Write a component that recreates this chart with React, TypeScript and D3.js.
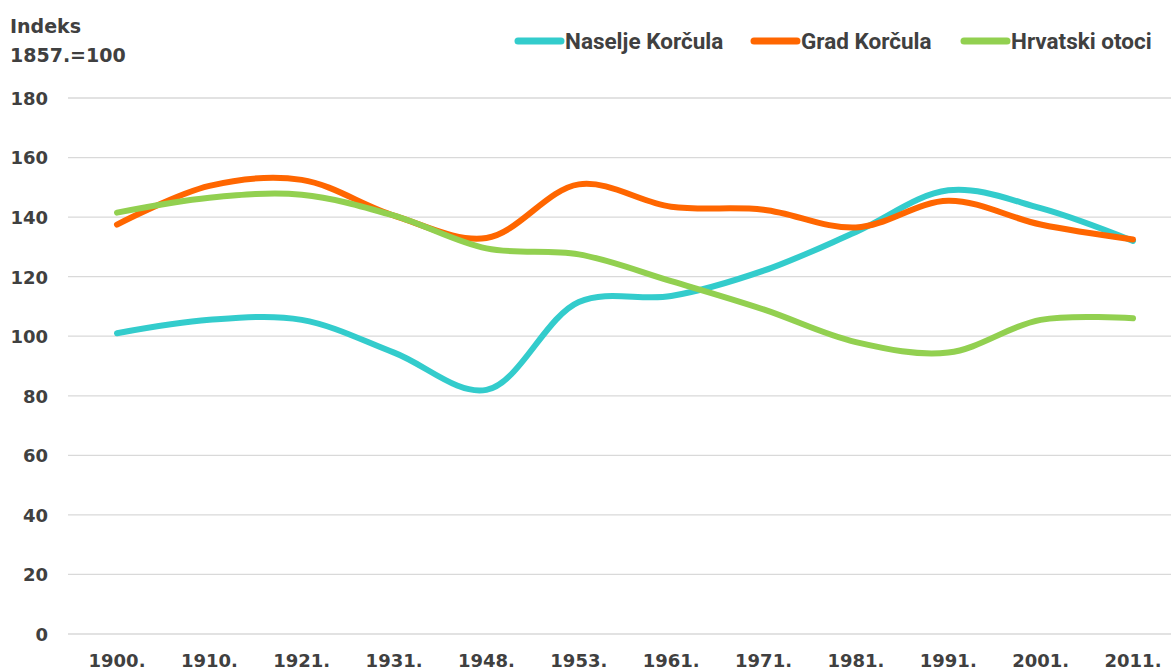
import React from "react";
import * as d3 from "d3";

// Census years on the x axis
const years = ["1900.", "1910.", "1921.", "1931.", "1948.", "1953.", "1961.", "1971.", "1981.", "1991.", "2001.", "2011."];

// Index values (1857 = 100)
const naseljeKorcula = [101, 105.5, 105.5, 94.5, 82, 111.5, 113.5, 122, 135, 149, 143, 132];
const gradKorcula = [137.5, 150.5, 152.5, 140.5, 133, 151, 143.5, 142.5, 136.5, 145.5, 137.5, 132.5];
const hrvatskiOtoci = [141.5, 146.5, 147.5, 140.5, 129.5, 127.5, 118.5, 109, 98, 94.5, 105.5, 106];

const yTicks = [0, 20, 40, 60, 80, 100, 120, 140, 160, 180];

const seriesNames = ["Naselje Korčula", "Grad Korčula", "Hrvatski otoci"];
const seriesColors = ["#33CCCC", "#FF6600", "#92D050"];

const W = 1171;
const H = 672;
const textColor = "#404040";
const tickFont = "'DejaVu Sans', sans-serif";
const legendFont = "'Liberation Sans Narrow', 'Roboto', sans-serif";

const App: React.FC = () => {
  const x = d3.scalePoint<string>().domain(years).range([117, 1133]);
  const y = d3.scaleLinear().domain([0, 180]).range([634, 98]);

  const line = d3
    .line<number>()
    .x((_, i) => x(years[i]) as number)
    .y((d) => y(d))
    .curve(d3.curveCatmullRom.alpha(0.5));

  const series = [naseljeKorcula, gradKorcula, hrvatskiOtoci];

  // legend entry start positions
  const legendX = [518, 754, 964];

  return (
    <svg width={W} height={H} style={{ position: "absolute", left: 0, top: 0, background: "#fff" }}>
      {/* axis title */}
      <text x={10} y={33} fontFamily={tickFont} fontWeight={700} fontSize={19} fill={textColor}>
        Indeks
      </text>
      <text x={10} y={62} fontFamily={tickFont} fontWeight={700} fontSize={19} fill={textColor}>
        1857.=100
      </text>

      {/* grid + y ticks */}
      {yTicks.map((t) => (
        <g key={t}>
          <line x1={68} x2={W} y1={y(t)} y2={y(t)} stroke="#d9d9d9" strokeWidth={1.3} />
          <text
            x={48}
            y={y(t)}
            dy="0.38em"
            textAnchor="end"
            fontFamily={tickFont}
            fontWeight={700}
            fontSize={18}
            fill={textColor}
          >
            {t}
          </text>
        </g>
      ))}

      {/* x labels */}
      {years.map((yr) => (
        <text
          key={yr}
          x={x(yr)}
          y={667}
          textAnchor="middle"
          fontFamily={tickFont}
          fontWeight={700}
          fontSize={18}
          fill={textColor}
        >
          {yr}
        </text>
      ))}

      {/* series lines */}
      {series.map((s, i) => (
        <path
          key={seriesNames[i]}
          d={line(s) || ""}
          fill="none"
          stroke={seriesColors[i]}
          strokeWidth={6}
          strokeLinecap="round"
          strokeLinejoin="round"
        />
      ))}

      {/* legend */}
      {seriesNames.map((name, i) => (
        <g key={name}>
          <line
            x1={legendX[i]}
            x2={legendX[i] + 43}
            y1={41}
            y2={41}
            stroke={seriesColors[i]}
            strokeWidth={7}
            strokeLinecap="round"
          />
          <text
            x={legendX[i] + 47}
            y={49}
            fontFamily={legendFont}
            fontWeight={700}
            fontSize={22.5}
            fill={textColor}
          >
            {name}
          </text>
        </g>
      ))}
    </svg>
  );
};

export default App;
